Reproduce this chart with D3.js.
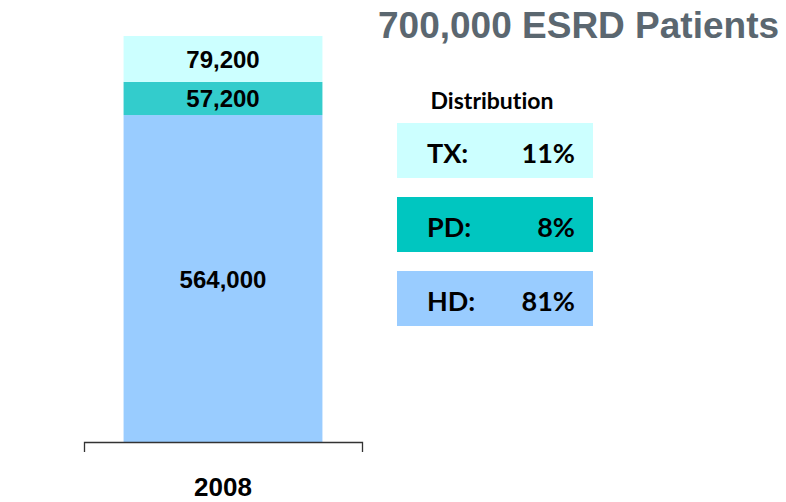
<!DOCTYPE html>
<html>
<head>
<meta charset="utf-8">
<script src="https://cdn.jsdelivr.net/npm/d3@7"></script>
<style>
  html, body { margin: 0; padding: 0; background: #fff; }
  svg { display: block; }
  .lato { font-variant-ligatures: none; font-feature-settings: "liga" 0; }
</style>
</head>
<body>
<svg id="chart" width="786" height="502"></svg>
<script>
// ---- data ----
const years = ["2008"];
const modalities = ["HD", "PD", "TX"];           // stacking order, bottom to top
const patients2008 = [564000, 57200, 79200];     // HD, PD, TX
const barLabels = ["564,000", "57,200", "79,200"];
const legendNames = ["TX:", "PD:", "HD:"];
const legendShares = ["11%", "8%", "81%"];
const titleText = "700,000 ESRD Patients";
const legendTitle = "Distribution";

// ---- styles ----
const barColors = { HD: "#99CCFF", PD: "#33CCCC", TX: "#CCFFFF" };
const boxColors = { "TX:": "#CCFFFF", "PD:": "#00C6C0", "HD:": "#99CCFF" };

const svg = d3.select("#chart");

const total = d3.sum(patients2008);
const y = d3.scaleLinear().domain([0, total]).range([442, 36]);
const x = d3.scaleBand().domain(years).range([84, 362]).paddingInner(0).paddingOuter(0.199);

// stacked segments
const rows = [{ year: "2008" }];
modalities.forEach((m, i) => rows[0][m] = patients2008[i]);
const stack = d3.stack().keys(modalities)(rows);

const segs = svg.append("g");
stack.forEach((layer, i) => {
  const d = layer[0];
  segs.append("rect")
    .attr("x", x("2008"))
    .attr("width", x.bandwidth())
    .attr("y", y(d[1]))
    .attr("height", y(d[0]) - y(d[1]))
    .attr("fill", barColors[layer.key]);
  segs.append("text")
    .attr("x", x("2008") + x.bandwidth() / 2)
    .attr("y", (y(d[0]) + y(d[1])) / 2 + 9)
    .attr("text-anchor", "middle")
    .attr("font-family", "Liberation Sans, Arial, sans-serif")
    .attr("font-weight", "bold")
    .attr("font-size", 24)
    .attr("fill", "#000")
    .text(barLabels[i]);
});

// x axis with outer ticks only
const axis = d3.axisBottom(x).tickSize(0).tickSizeOuter(10).tickPadding(46);
const gx = svg.append("g").attr("transform", "translate(0,442)").call(axis);
gx.select(".domain").attr("stroke", "#333").attr("stroke-width", 1.3);
gx.selectAll(".tick text")
  .attr("font-family", "Liberation Sans, Arial, sans-serif")
  .attr("font-weight", "bold")
  .attr("font-size", 26)
  .attr("fill", "#000")
  .attr("dy", "0.3em");

// title
svg.append("text")
  .attr("x", 378).attr("y", 38)
  .attr("font-family", "Liberation Sans, Arial, sans-serif")
  .attr("font-weight", "bold")
  .attr("font-size", 37)
  .attr("fill", "#5B6770")
  .text(titleText);

// legend / distribution
svg.append("text")
  .attr("class", "lato")
  .attr("x", 492).attr("y", 109)
  .attr("text-anchor", "middle")
  .attr("font-family", "Lato, 'Open Sans', sans-serif")
  .attr("font-weight", "bold")
  .attr("font-size", 23)
  .attr("fill", "#000")
  .text(legendTitle);

const ly = d3.scaleBand().domain(legendNames).range([123, 123 + 74 * 3 - 19]).paddingInner(19 / 74).paddingOuter(0);
const lg = svg.append("g");
legendNames.forEach((n, i) => {
  lg.append("rect")
    .attr("x", 397).attr("width", 196)
    .attr("y", ly(n)).attr("height", ly.bandwidth())
    .attr("fill", boxColors[n]);
  lg.append("text")
    .attr("class", "lato")
    .attr("x", 427).attr("y", ly(n) + 40)
    .attr("font-family", "Lato, 'Open Sans', sans-serif")
    .attr("font-weight", "bold")
    .attr("font-size", 27)
    .attr("fill", "#000")
    .text(n);
  lg.append("text")
    .attr("class", "lato")
    .attr("x", 575).attr("y", ly(n) + 40)
    .attr("text-anchor", "end")
    .attr("font-family", "Lato, 'Open Sans', sans-serif")
    .attr("font-weight", "bold")
    .attr("font-size", 27)
    .attr("fill", "#000")
    .text(legendShares[i]);
});
</script>
</body>
</html>
